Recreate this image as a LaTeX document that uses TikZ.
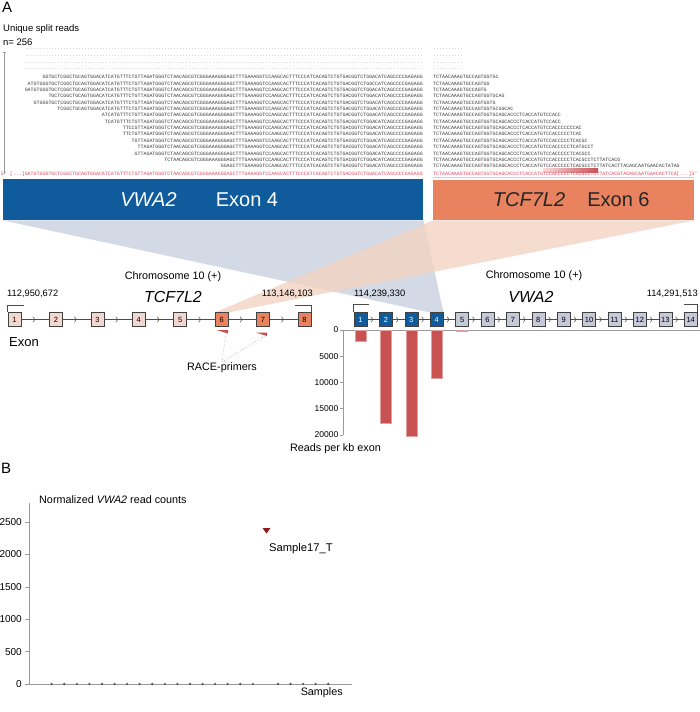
\documentclass[tikz,border=0pt]{standalone}
\usepackage{fontspec}
\setmainfont{Liberation Sans}
\setmonofont{Liberation Mono}
\usetikzlibrary{arrows.meta,decorations.markings,backgrounds}

\definecolor{vwablue}{HTML}{0F5B9B}
\definecolor{tcforange}{HTML}{E9835F}
\definecolor{tcfpink}{HTML}{F4D6D0}
\definecolor{vwagrey}{HTML}{C6CAD8}
\definecolor{barred}{HTML}{C85252}
\definecolor{refred}{HTML}{E2455E}
\definecolor{fanblue}{HTML}{D4D9E6}
\definecolor{fanorange}{HTML}{F2D3C2}
\definecolor{axisgrey}{HTML}{9A9A9A}
\definecolor{seqgrey}{HTML}{3A3A3A}
\definecolor{darkred}{HTML}{8C1C1C}

\newcommand{\tendots}{..........}

\begin{document}
\begin{tikzpicture}[x=1pt,y=-1pt,
    seq/.style={font=\ttfamily\fontsize{4.95}{5}\selectfont, inner sep=0pt, text=seqgrey},
    exon/.style={draw=black!75, line width=0.6pt, minimum width=13pt, minimum height=13.5pt, inner sep=0pt, font=\fontsize{7.5}{8}\selectfont},
    intron/.style={draw=black!70, line width=0.5pt, postaction=decorate,
        decoration={markings, mark=at position 0.5 with {\arrow{Straight Barb[length=2pt,width=5.5pt]}}}},
    bracket/.style={draw=black!70, line width=0.6pt},
    axis/.style={draw=axisgrey, line width=0.6pt},
    lbl/.style={inner sep=0pt, font=\fontsize{10.8}{12}\selectfont},
    ]
\useasboundingbox (0,0) rectangle (700,712);

% panel A, split reads
\node[lbl, anchor=west, font=\fontsize{15}{17}\selectfont] (A) at (2,7) {A};
\node[lbl, anchor=west, font=\fontsize{9.5}{11}\selectfont] (title) at (3,29) {Unique split reads};
\node[lbl, anchor=west, font=\fontsize{9.5}{11}\selectfont] (nreads) at (3,42) {n= 256};
\draw[axis] (2.5,52) -- (5.5,52) (4,52) -- (4,174);

\foreach \r in {0,...,3} {
    \node[seq, anchor=east, text=axisgrey] at (423,{49.3+6.67*\r}) {\tendots\tendots\tendots\tendots\tendots\tendots\tendots\tendots\tendots\tendots\tendots\tendots\tendots....};
    \node[seq, anchor=west, text=axisgrey] at (433,{49.3+6.67*\r}) {\tendots};
}

\foreach \r/\lseq/\rseq in {
    1/GGTGCTCGGCTGCAGTGGACATCATGTTTCTGTTAGATGGGTCTAACAGCGTCGGGAAAGGGAGCTTTGAAAGGTCCAAGCACTTTCCCATCACAGTCTGTGACGGTCTGGACATCAGCCCCGAGAGG/TCTAACAAAGTGCCAGTGGTGC,
    2/ATGTGGGTGCTCGGCTGCAGTGGACATCATGTTTCTGTTAGATGGGTCTAACAGCGTCGGGAAAGGGAGCTTTGAAAGGTCCAAGCACTTTCCCATCACAGTCTGTGACGGTCTGGCCATCAGCCCCGAGAGG/TCTAACAAAGTGCCAGTGG,
    3/GATGTGGGTGCTCGGCTGCAGTGGACATCATGTTTCTGTTAGATGGGTCTAACAGCGTCGGGAAAGGGAGCTTTGAAAGGTCCAAGCACTTTCCCATCACAGTCTGTGACGGTCTGGACATCAGCCCCGAGAGG/TCTAACAAAGTGCCAGTG,
    4/TGCTCGGCTGCAGTGGACATCATGTTTCTGTTAGATGGGTCTAACAGCGTCGGGAAAGGGAGCTTTGAAAGGTCCAAGCACTTTCCCATCACAGTCTGTGACGGTCTGGACATCAGCCCCGAGAGG/TCTAACAAAGTGCCAGTGGTGCAG,
    5/GTGGGTGCTCGGCTGCAGTGGACATCATGTTTCTGTTAGATGGGTCTAACAGCGTCGGGAAAGGGAGCTTTGAAAGGTCCAAGCACTTTCCCATCACAGTCTGTGACGGTCTGGACATCAGCCCCGAGAGG/TCTAACAAAGTGCCAGTGGTG,
    6/TCGGCTGCAGTGGACATCATGTTTCTGTTAGATGGGTCTAACAGCGTCGGGAAAGGGAGCTTTGAAAGGTCCAAGCACTTTCCCATCACAGTCTGTGACGGTCTGGACATCAGCCCCGAGAGG/TCTAACAAAGTGCCAGTGGTGCGGCAC,
    7/ATCATGTTTCTGTTAGATGGGTCTAACAGCGTCGGGAAAGGGAGCTTTGAAAGGTCCAAGCACTTTCCCATCACAGTCTGTGACGGTCTGGACATCAGCCCCGAGAGG/TCTAACAAAGTGCCAGTGGTGCAGCACCCTCACCATGTCCACC,
    8/TCATGTTTCTGTTAGATGGGTCTAACAGCGTCGGGAAAGGGAGCTTTGAAAGGTCCAAGCACTTTCCCATCACAGTCTGTGACGGTCTGGACATCAGCCCCGAGAGG/TCTAACAAAGTGCCAGTGGTGCAGCACCCTCACCATGTCCACC,
    9/TTCCGTTAGATGGGTCTAACAGCGTCGGGAAAGGGAGCTTTGAAAGGTCCAAGCACTTTCCCATCACAGTCTGTGACGGTCTGGACATCAGCCCCGAGAGG/TCTAACAAAGTGCCAGTGGTGCAGCACCCTCACCATGTCCACCCCCCCAC,
    10/TTCTGTTAGATGGGTCTAACAGCGTCGGGAAAGGGAACTTTGAAAGGTCCAAGCACTTTCCCATCACAGTCTGTGACGGTCTGGACATCAGCCCCGAGAGG/TCTAACAAAGTGCCAGTGGTGCAGCACCCTCACCATGTCCACCCCCTCAC,
    11/TGTTAGATGGGTCTAACAGCGTCGGGAAAGGGAGCTTTGAAAGGTCCAAGCACTTTCCCATCACAGTCTGTGACGGTCTGGACATCAGCCCCGAGAGG/TCTAACAAAGTGCCAGTGGTGCAGCACCCTCACCATGTCCACCCCCTCACGC,
    12/TTAGATGGGTCTAACAGCGTCGGGAAAGGGAGCTTTGAAAGGTCCAAGCACTTTCCCATCACAGTCTGTGACGGTCTGGACATCAGCCCCGAGAGG/TCTAACAAAGTGCCAGTGGTGCAGCACCCTCACCATGTCCACCCCCTCATGCCT,
    13/GTTAGATGGGTCTAACAGCGTCGGGAAAGGGAGCTTTGAAAGGTCCAAGCACTTTCCCATCACAGTCTGTGACGGTCTGGACATCAGCCCCGAGAGG/TCTAACAAAGTGCCAGTGGTGCAGCACCCTCACCATGTCCACCCCCTCACGCC,
    14/TCTAACAGCGTCGGGAAAGGGAGCTTTGAAAGGTCCAAGCACTTTCCCATCACAGTCTGTGACGGTCTGGACATCAGCCCCGAGAGG/TCTAACAAAGTGCCAGTGGTGCAGCACCCTCACCATGTCCACCCCCTCACGCCTCTTATCACG,
    15/GGAGCTTTGAAAGGTCCAAGCACTTTCCCATCACAGTCTGTGACGGTCTGGACATCAGCCCCGAGAGG/TCTAACAAAGTGCCAGTGGTGCAGCACCCTCACCATGTCCACCCCCTCACGCCTCTTATCACTTACAGCAATGAACACTATAG%
} {
    \node[seq, anchor=east] (left\r) at (423,{77.3+6.34*(\r-1)}) {\lseq};
    \node[seq, anchor=west] (right\r) at (433,{77.3+6.34*(\r-1)}) {\rseq};
}

% reference sequence
\shade[left color=refred!20, right color=barred] (543,168) rectangle (598,172);
\node[seq, anchor=east, text=refred] (refleft) at (423,174) {5' [...]GATGTGGGTGCTCGGCTGCAGTGGACATCATGTTTCTGTTAGATGGGTCTAACAGCGTCGGGAAAGGGAGCTTTGAAAGGTCCAAGCACTTTCCCATCACAGTCTGTGACGGTCTGGACATCAGCCCCGAGAGG};
\node[seq, anchor=west, text=refred] (refright) at (433,174) {TCTAACAAAGTGCCAGTGGTGCAGCACCCTCACCATGTCCACCCCCTCACGCCTCTTATCACGTACAGCAATGAACACTTCA[...]3'};
\draw[refred!35, line width=0.8pt] (433,177) -- (694,177);

% fused exons
\node[fill=vwablue, inner sep=0pt, minimum width=420pt, minimum height=41pt, anchor=north west] (vbox) at (3,179) {};
\node[fill=tcforange, inner sep=0pt, minimum width=261pt, minimum height=40pt, anchor=north west] (obox) at (433,180) {};
\node[text=white, font=\fontsize{20}{24}\selectfont\itshape] at (148.5,199.5) {VWA2};
\node[text=white, font=\fontsize{20}{24}\selectfont] at (247,199.5) {Exon 4};
\node[text=black!85, font=\fontsize{20}{24}\selectfont\itshape] at (529,199.5) {TCF7L2};
\node[text=black!85, font=\fontsize{20}{24}\selectfont] at (618.5,199.5) {Exon 6};

% gene models
\foreach \i in {1,...,5}
    \node[exon, fill=tcfpink] (t\i) at ({14.5+41.43*(\i-1)},319.5) {\i};
\foreach \i in {6,7,8}
    \node[exon, fill=tcforange] (t\i) at ({14.5+41.43*(\i-1)},319.5) {\i};
\foreach \i [count=\j from 2] in {1,...,7}
    \draw[intron] (t\i) -- (t\j);
\foreach \i in {1,...,4}
    \node[exon, fill=vwablue, text=white] (v\i) at ({360.5+25.4*(\i-1)},319.5) {\i};
\foreach \i in {5,...,14}
    \node[exon, fill=vwagrey] (v\i) at ({360.5+25.4*(\i-1)},319.5) {\i};
\foreach \i [count=\j from 2] in {1,...,13}
    \draw[intron] (v\i) -- (v\j);

\draw[bracket] (t1.north west) -- ++(0,-7.5) -- ++(16.5,0);
\draw[bracket] (t8.north east) -- ++(0,-7.5) -- ++(-16,0);
\draw[bracket] (v1.north west) -- ++(0,-8) -- ++(15.5,0);
\draw[bracket] (v14.north east) -- ++(0,-8) -- ++(-14,0);

\begin{pgfonlayer}{background}
\fill[fanblue] (vbox.south west) -- (vbox.south east) -- (v4.north east) -- (v4.north west) -- cycle;
\fill[fanorange, opacity=0.8] (obox.south west) -- (obox.south east) -- (t6.north east) -- (t6.north west) -- cycle;
\end{pgfonlayer}

\node[lbl, anchor=west, font=\fontsize{9.3}{11}\selectfont] (tstart) at (7,294) {112,950,672};
\node[lbl, anchor=east, font=\fontsize{9.3}{11}\selectfont] (tend) at (313,294) {113,146,103};
\node[lbl, anchor=west, font=\fontsize{9.3}{11}\selectfont] (vstart) at (354,294) {114,239,330};
\node[lbl, anchor=east, font=\fontsize{9.3}{11}\selectfont] (vend) at (698,294) {114,291,513};
\node[lbl] (chromT) at (173,277) {Chromosome 10 (+)};
\node[lbl, font=\fontsize{16}{18}\selectfont\itshape] (geneT) at (173,297) {TCF7L2};
\node[lbl] (chromV) at (534,276) {Chromosome 10 (+)};
\node[lbl, font=\fontsize{16}{18}\selectfont\itshape] (geneV) at (531,297) {VWA2};
\node[lbl, font=\fontsize{13}{15}\selectfont] (exonlbl) at (24,342) {Exon};

% RACE primers
\fill[barred] (216.5,330) -- (228,330) -- (228,333.5) -- cycle;
\fill[barred] (255.5,332.5) -- (267,332.5) -- (267,336) -- cycle;
\coordinate (p6) at (226,333.5);
\coordinate (p7) at (265,336);
\node[lbl, inner sep=1pt] (race) at (222,368) {RACE-primers};
\draw[axisgrey, dotted, line width=0.6pt] (p6) -- (race.north) -- (p7);

% reads per kb exon (values in thousands)
\draw[axis] (343,330) -- (343,435);
\draw[axis] (343,330) -- (700,330);
\foreach \v in {0,5,10,15,20} {
    \draw[axis] (340,{330+5.25*\v}) -- (343,{330+5.25*\v});
    \node[lbl, anchor=east, font=\fontsize{8.5}{10}\selectfont] at (338.5,{330+5.25*\v}) {\ifnum\v=0 0\else\v000\fi};
}
\foreach \i/\v in {1/2.1,2/17.75,3/20.2,4/9.15,5/0.25}
    \filldraw[fill=barred, draw=barred!55!white, line width=0.4pt] ({360.5+25.4*(\i-1)-5.5},330) rectangle ++(11,{5.25*\v});
\node[lbl] (rpk) at (335.5,449) {Reads per kb exon};

% panel B, read counts
\node[lbl, anchor=west, font=\fontsize{15}{17}\selectfont] (B) at (1,468) {B};
\node[lbl, anchor=west] (ylbl) at (39,500) {Normalized \textit{VWA2} read counts};
\draw[axis] (29,503) -- (29,684) -- (352,684);
\foreach \v in {0,500,...,2500} {
    \draw[axis] (25,{684-0.0648*\v}) -- (29,{684-0.0648*\v});
    \node[lbl, anchor=east, font=\fontsize{10}{12}\selectfont] at (22,{684-0.0648*\v}) {\v};
}
\foreach \k in {1,...,17,19,20,21,22,23}
    \fill[black!65] ({51.7+12.57*(\k-1)},684) circle (1.3);
\fill[darkred] (262.5,528) -- (270.5,528) -- (266.5,533.5) -- cycle;
\node[lbl, anchor=west, font=\fontsize{11.2}{13}\selectfont] (outlier) at (269,549) {Sample17\_T};
\node[lbl, anchor=east] (xlbl) at (343,693) {Samples};
\end{tikzpicture}
\end{document}
